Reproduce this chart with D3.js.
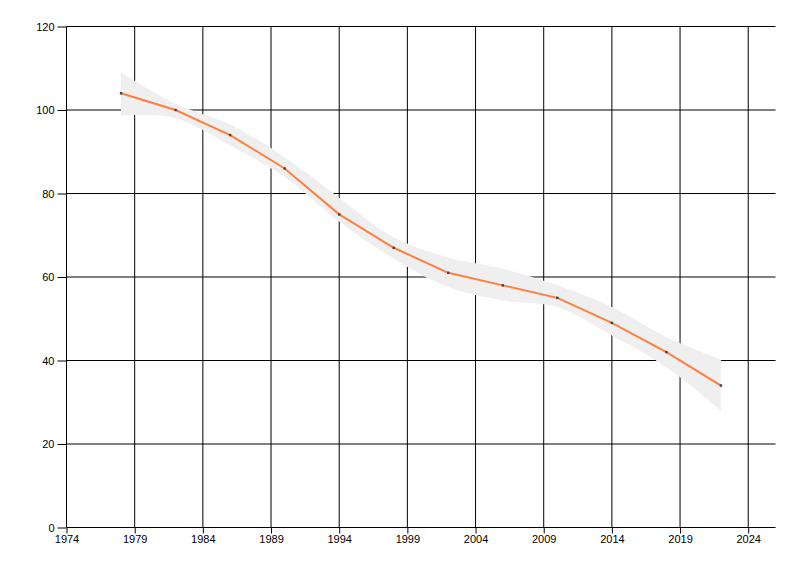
<!DOCTYPE html>
<html><head><meta charset="utf-8">
<script src="https://cdn.jsdelivr.net/npm/d3@7"></script>
<style>body{margin:0;background:#fff}svg{display:block}text{font-family:"Liberation Sans",Arial,sans-serif;font-size:11px;fill:#000}</style>
</head><body><svg id="c" width="800" height="576"></svg>
<script>
const years = [1978,1982,1986,1990,1994,1998,2002,2006,2010,2014,2018,2022];
const values = [104,100,94,86,75,67,61,58,55,49,42,34];
const upper = [109,101.5,96.5,88.7,79,69.5,64.7,62,58,52.8,45.6,40.2];
const lower = [98.7,98,91.5,83.9,73.3,64.4,57.6,54.4,52.8,46,38.4,28];
const xTicks = [1974,1979,1984,1989,1994,1999,2004,2009,2014,2019,2024];
const yTicks = [0,20,40,60,80,100,120];

const svg = d3.select("#c");
const x = d3.scaleLinear().domain([1974,2026]).range([66.5,775.5]);
const y = d3.scaleLinear().domain([0,120]).range([527.5,26.5]);

// grid
svg.append("g").selectAll("line").data(yTicks).join("line")
  .attr("x1",x(1974)).attr("x2",x(2026)).attr("y1",d=>y(d)).attr("y2",d=>y(d))
  .attr("stroke","#000").attr("stroke-width",1);
svg.append("g").selectAll("line").data(xTicks).join("line")
  .attr("x1",d=>x(d)).attr("x2",d=>x(d)).attr("y1",y(0)).attr("y2",y(120))
  .attr("stroke","#000").attr("stroke-width",1);

// band
const band = years.map((yr,i)=>({yr,u:upper[i],l:lower[i]}));
svg.append("path").datum(band)
  .attr("d",d3.area().x(d=>x(d.yr)).y0(d=>y(d.l)).y1(d=>y(d.u)).curve(d3.curveCatmullRom))
  .attr("fill","#efefef");

// line
const pts = years.map((yr,i)=>({yr,v:values[i]}));
svg.append("path").datum(pts)
  .attr("d",d3.line().x(d=>x(d.yr)).y(d=>y(d.v)))
  .attr("fill","none").attr("stroke","#ff7f3f").attr("stroke-width",2);
svg.append("g").selectAll("rect").data(pts).join("rect")
  .attr("x",d=>x(d.yr)-1.2).attr("y",d=>y(d.v)-1.2).attr("width",2.4).attr("height",2.4)
  .attr("fill","#444");

// axes
const yAxis = d3.axisLeft(y).tickValues(yTicks).tickSize(9).tickPadding(3);
const gy = svg.append("g").attr("transform",`translate(${x(1974)},0)`).call(yAxis);
const xAxis = d3.axisBottom(x).tickValues(xTicks).tickFormat(d3.format("d")).tickSize(6).tickPadding(2);
const gx = svg.append("g").attr("transform",`translate(0,${y(0)})`).call(xAxis);
[gy,gx].forEach(g=>{g.select(".domain").remove();g.selectAll(".tick line").attr("stroke","#000");g.selectAll("text").attr("fill","#000").style("font-size","11px").style("font-family","'Liberation Sans',Arial,sans-serif");});
</script></body></html>
